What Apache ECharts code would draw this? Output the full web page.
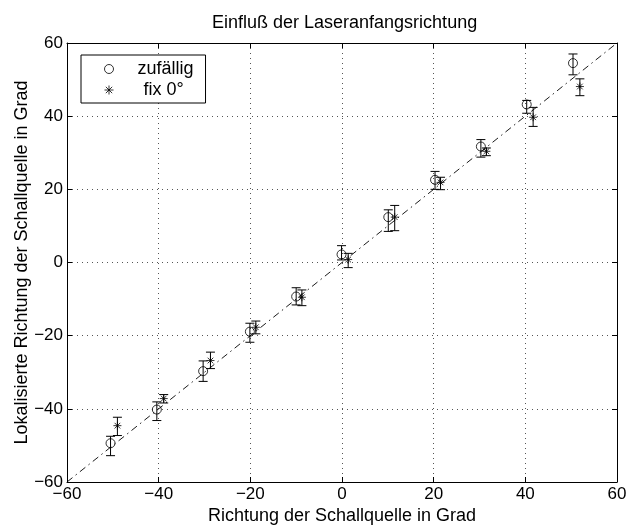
<!DOCTYPE html>
<html><head><meta charset="utf-8">
<script src="https://cdn.jsdelivr.net/npm/echarts@6/dist/echarts.min.js"></script>
<style>html,body{margin:0;padding:0;background:#fff}#c{width:634px;height:525px}</style>
</head><body><div id="c"></div>
<script>
const ticks = [-60, -40, -20, 0, 20, 40, 60];
const randX = [-50.5, -40.4, -30.3, -20.1, -10.0, -0.1, 10.1, 20.3, 30.3, 40.3, 50.4];
const randY = [-49.4, -40.2, -29.7, -18.9, -9.3, 2.2, 12.4, 22.6, 31.7, 43.2, 54.5];
const randLo = [-52.8, -43.2, -32.5, -21.8, -11.6, 0.7, 8.5, 20.0, 28.8, 40.8, 51.3];
const randHi = [-47.5, -38.1, -26.9, -16.6, -6.9, 4.6, 14.4, 24.9, 33.6, 44.3, 57.0];
const fixX = [-49.0, -38.9, -28.7, -18.8, -8.75, 1.35, 11.5, 21.5, 31.5, 41.7, 51.9];
const fixY = [-44.6, -37.2, -26.8, -17.7, -9.5, 0.8, 12.4, 21.9, 30.4, 39.7, 48.1];
const fixLo = [-47.3, -38.4, -29.0, -19.5, -11.8, -1.4, 8.7, 19.9, 29.2, 37.2, 45.6];
const fixHi = [-42.3, -36.1, -24.5, -16.0, -7.5, 2.5, 15.6, 23.3, 31.3, 42.4, 50.2];

const FONT = 'Liberation Sans, Arial, Helvetica, sans-serif';
const star = 'path://M0,-5L0,5M-5,0L5,0M-3.54,-3.54L3.54,3.54M-3.54,3.54L3.54,-3.54';

function errData(xs, lo, hi) { return xs.map((x, i) => [x, lo[i], hi[i]]); }
function errRender(params, api) {
  const x = api.value(0);
  const lo = api.coord([x, api.value(1)]);
  const hi = api.coord([x, api.value(2)]);
  const w = 4.5;
  const st = { stroke: '#000', lineWidth: 1, fill: null };
  return { type: 'group', children: [
    { type: 'line', shape: { x1: lo[0], y1: lo[1], x2: hi[0], y2: hi[1] }, style: st },
    { type: 'line', shape: { x1: lo[0]-w, y1: lo[1], x2: lo[0]+w, y2: lo[1] }, style: st },
    { type: 'line', shape: { x1: hi[0]-w, y1: hi[1], x2: hi[0]+w, y2: hi[1] }, style: st }
  ]};
}
const minus = v => String(v).replace('-', '\u2212');

const chart = echarts.init(document.getElementById('c'));
const axisCommon = {
  type: 'value', min: -60, max: 60, interval: 20,
  axisLine: { show: true, onZero: false, lineStyle: { color: '#000', width: 1 } },
  axisTick: { show: true, inside: true, length: 5, lineStyle: { color: '#000' } }
};
chart.setOption({
  animation: false,
  backgroundColor: '#fff',
  textStyle: { fontFamily: FONT },
  title: { text: 'Einfluß der Laseranfangsrichtung', left: 207, top: 9,
    textStyle: { fontFamily: FONT, fontSize: 18, fontWeight: 'normal', color: '#000' } },
  grid: { left: 67, right: 17, top: 43, bottom: 43, containLabel: false, outerBoundsMode: 'none' },
  legend: {
    data: [
      { name: 'zufällig' },
      { name: 'fix 0°', textStyle: { fontFamily: FONT, fontSize: 18, color: '#000', padding: [0, 0, 0, 25] } }
    ],
    orient: 'vertical', left: 81, top: 55,
    borderColor: '#000', borderWidth: 1, padding: [5, 12, 4, 23], itemGap: 3,
    itemWidth: 9, itemHeight: 9, backgroundColor: '#fff',
    itemStyle: { borderWidth: 1 },
    textStyle: { fontFamily: FONT, fontSize: 18, color: '#000', padding: [0, 0, 0, 19] }
  },
  xAxis: [
    Object.assign({}, axisCommon, {
      position: 'bottom',
      name: 'Richtung der Schallquelle in Grad', nameLocation: 'middle', nameGap: 25,
      nameMoveOverlap: false,
      nameTextStyle: { fontFamily: FONT, fontSize: 18, color: '#000' },
      axisLabel: { color: '#000', fontSize: 17, fontFamily: FONT, margin: 4, formatter: minus },
      splitLine: { show: true, lineStyle: { color: '#555', type: [1, 4], width: 1 } }
    }),
    Object.assign({}, axisCommon, { position: 'top', axisLabel: { show: false }, splitLine: { show: false } })
  ],
  yAxis: [
    Object.assign({}, axisCommon, {
      position: 'left',
      name: 'Lokalisierte Richtung der Schallquelle in Grad', nameLocation: 'middle', nameGap: 36,
      nameMoveOverlap: false,
      nameTextStyle: { fontFamily: FONT, fontSize: 18, color: '#000' },
      axisLabel: { color: '#000', fontSize: 17, fontFamily: FONT, margin: 4, formatter: minus },
      splitLine: { show: true, lineStyle: { color: '#555', type: [1, 4], width: 1 } }
    }),
    Object.assign({}, axisCommon, { position: 'right', axisLabel: { show: false }, splitLine: { show: false } })
  ],
  series: [
    { type: 'line', name: 'diag', data: [[ticks[0], ticks[0]], [ticks[6], ticks[6]]], symbol: 'none',
      lineStyle: { color: '#000', width: 0.9, type: [7, 4, 1.5, 4] }, silent: true, z: 1 },
    { type: 'custom', name: 'errR', renderItem: errRender, data: errData(randX, randLo, randHi), z: 2 },
    { type: 'custom', name: 'errF', renderItem: errRender, data: errData(fixX, fixLo, fixHi), z: 2 },
    { type: 'scatter', name: 'zufällig', data: randX.map((x, i) => [x, randY[i]]),
      symbol: 'circle', symbolSize: 9,
      itemStyle: { color: 'rgba(0,0,0,0)', borderColor: '#000', borderWidth: 1 }, z: 3 },
    { type: 'scatter', name: 'fix 0°', data: fixX.map((x, i) => [x, fixY[i]]),
      symbol: star, symbolSize: 8, symbolKeepAspect: true,
      itemStyle: { color: '#000', borderColor: '#000', borderWidth: 1 }, z: 3 }
  ]
});
</script></body></html>
